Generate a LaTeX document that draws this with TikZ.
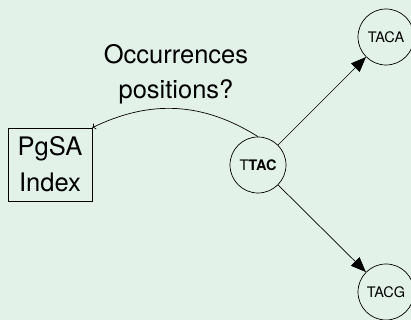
\documentclass[tikz,border=0pt]{standalone}
\usepackage{fontspec}
\setmainfont{TeX Gyre Heros}
\usetikzlibrary{arrows.meta}
\definecolor{bgmint}{RGB}{227,242,233}

\begin{document}
\begin{tikzpicture}[x=1pt,y=1pt,
  kmer/.style={draw, circle, inner sep=0pt, minimum size=56pt, font=\fontsize{14.5}{17}\selectfont},
  index/.style={draw, rectangle, inner sep=0pt, minimum width=84pt, minimum height=73pt, align=center, font=\fontsize{25.5}{36}\selectfont},
  query/.style={align=center, font=\fontsize{25.5}{35}\selectfont},
  >={Triangle[length=15pt,width=12pt]}, line width=0.7pt]
\fill[bgmint] (0,0) rectangle (411,320);
\useasboundingbox (0,0) rectangle (411,320);
\node[index] (pgsa) at (50,155.5) {PgSA\\Index};
\node[kmer] (ttac) at (258,155) {T\textbf{TAC}};
\node[kmer] (taca) at (386,283) {TACA};
\node[kmer] (tacg) at (386,28) {TACG};
\node[query] (occ) at (176,246) {Occurrences\\positions?};
\draw[->] (ttac) -- (taca);
\draw[->] (ttac) -- (tacg);
\draw[-{To}] (ttac.north) to[bend right=29] (pgsa.north east);
\end{tikzpicture}
\end{document}
